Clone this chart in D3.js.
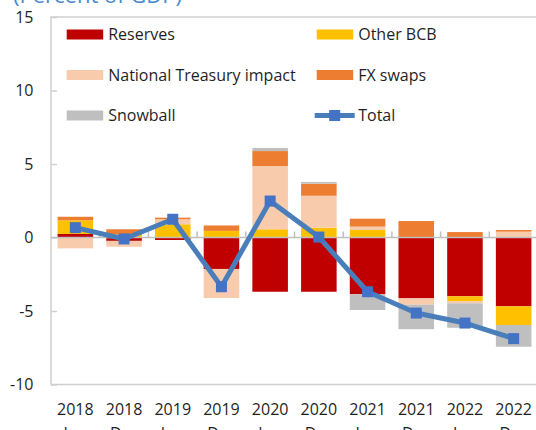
<!DOCTYPE html>
<html>
<head>
<meta charset="utf-8">
<script src="https://cdn.jsdelivr.net/npm/d3@7"></script>
<style>
  html, body { margin: 0; padding: 0; background: #fff; overflow: hidden; }
  svg { display: block; font-family: "Open Sans", "Noto Sans", sans-serif; }
</style>
</head>
<body>
<svg id="chart" width="536" height="430"></svg>
<script>
// Half-year periods (year / month)
const years  = ["2018", "2018", "2019", "2019", "2020", "2020", "2021", "2021", "2022", "2022"];
const months = ["Jun", "Dec", "Jun", "Dec", "Jun", "Dec", "Jun", "Dec", "Jun", "Dec"];

// Contributions, percent of GDP
const reserves = [0.24, -0.23, -0.17, -2.14, -3.69, -3.69, -3.86, -4.14, -4.00, -4.68];
const otherBCB = [0.93, 0.20, 0.90, 0.45, 0.56, 0.67, 0.51, 0.00, -0.32, -1.27];
const treasury = [-0.74, -0.40, 0.34, -1.98, 4.30, 2.17, 0.23, -0.43, -0.16, 0.40];
const fxSwaps  = [0.24, 0.36, 0.11, 0.37, 1.02, 0.82, 0.54, 1.12, 0.37, 0.11];
const snowball = [0.00, 0.00, 0.00, 0.00, 0.21, 0.12, -1.07, -1.67, -1.66, -1.48];
const total    = [0.67, -0.10, 1.24, -3.35, 2.48, 0.03, -3.69, -5.14, -5.82, -6.88];

const yTicks = [15, 10, 5, 0, -5, -10];

const seriesDefs = [
  { key: "reserves", name: "Reserves", values: reserves, color: "#C00000" },
  { key: "otherBCB", name: "Other BCB", values: otherBCB, color: "#FFC000" },
  { key: "treasury", name: "National Treasury impact", values: treasury, color: "#F8CBAD" },
  { key: "fxSwaps", name: "FX swaps", values: fxSwaps, color: "#ED7D31" },
  { key: "snowball", name: "Snowball", values: snowball, color: "#BFBFBF" }
];

const rows = years.map((y, i) => {
  const r = { id: i, year: y, month: months[i], total: total[i] };
  seriesDefs.forEach(s => { r[s.key] = s.values[i]; });
  return r;
});

const svg = d3.select("#chart");
const plot = { left: 51, right: 538, top: 17, bottom: 384.5 };

const x = d3.scaleBand()
  .domain(rows.map(d => d.id))
  .range([plot.left, plot.right])
  .paddingInner(0.27)
  .paddingOuter(0.135);

const y = d3.scaleLinear().domain([-10, 15]).range([plot.bottom, plot.top]);

const axisGrey = "#d0d0d0";
const textCol = "#1f1f1f";

// Stacked bars, positive and negative parts stacked away from zero
const stack = d3.stack()
  .keys(seriesDefs.map(s => s.key))
  .offset(d3.stackOffsetDiverging);
const layers = stack(rows);

svg.append("g").selectAll("g")
  .data(layers)
  .join("g")
  .attr("fill", (d, i) => seriesDefs[i].color)
  .selectAll("rect")
  .data(d => d)
  .join("rect")
  .attr("x", d => x(d.data.id))
  .attr("width", x.bandwidth())
  .attr("y", d => y(Math.max(d[0], d[1])))
  .attr("height", d => Math.abs(y(d[0]) - y(d[1])));

// Plot frame (top, left, bottom)
const frame = svg.append("g").attr("stroke", axisGrey).attr("stroke-width", 1.5).attr("fill", "none");
frame.append("path")
  .attr("d", `M${plot.right},${plot.top}H${plot.left}V${plot.bottom}H${plot.right}`);

// Y axis: labels on the left, short ticks pointing inward
const yAxis = svg.append("g").attr("transform", `translate(${plot.left},0)`)
  .call(d3.axisRight(y).tickValues(yTicks).tickSize(6).tickFormat(""));
yAxis.select(".domain").remove();
yAxis.selectAll("line").attr("stroke", axisGrey).attr("stroke-width", 1.5);

svg.append("g").selectAll("text")
  .data(yTicks)
  .join("text")
  .attr("x", 33.5)
  .attr("y", d => y(d))
  .attr("dy", "0.35em")
  .attr("text-anchor", "end")
  .attr("font-size", 16)
  .attr("fill", textCol)
  .text(d => d);

// Zero line with category boundary ticks
const zeroY = y(0);
svg.append("line")
  .attr("x1", plot.left).attr("x2", plot.right)
  .attr("y1", zeroY).attr("y2", zeroY)
  .attr("stroke", "#bfbfbf").attr("stroke-width", 1.5);

const boundaries = rows.slice(1).map(d => x(d.id) - x.step() * x.paddingInner() / 2);
svg.append("g").selectAll("line")
  .data(boundaries)
  .join("line")
  .attr("x1", d => d).attr("x2", d => d)
  .attr("y1", zeroY).attr("y2", zeroY - 6)
  .attr("stroke", "#bfbfbf").attr("stroke-width", 1.5);

// Category labels (two lines)
const xl = svg.append("g").selectAll("text")
  .data(rows)
  .join("text")
  .attr("x", d => x(d.id) + x.bandwidth() / 2)
  .attr("y", 415)
  .attr("text-anchor", "middle")
  .attr("font-size", 16)
  .attr("fill", textCol);
xl.append("tspan").text(d => d.year);
xl.append("tspan")
  .attr("x", d => x(d.id) + x.bandwidth() / 2)
  .attr("dy", 24)
  .text(d => d.month);

// Total line with square markers
const lineColor = "#4A7EBB";
const markerColor = "#4472C4";
const cx = d => x(d.id) + x.bandwidth() / 2;

svg.append("path")
  .datum(rows)
  .attr("fill", "none")
  .attr("stroke", lineColor)
  .attr("stroke-width", 5)
  .attr("stroke-linejoin", "round")
  .attr("d", d3.line().x(cx).y(d => y(d.total)));

const ms = 11;
svg.append("g").selectAll("rect")
  .data(rows)
  .join("rect")
  .attr("x", d => cx(d) - ms / 2)
  .attr("y", d => y(d.total) - ms / 2)
  .attr("width", ms).attr("height", ms)
  .attr("fill", markerColor);

// Legend
const legendItems = [
  { ...seriesDefs[0], col: 0, row: 0 },
  { ...seriesDefs[1], col: 1, row: 0 },
  { ...seriesDefs[2], col: 0, row: 1 },
  { ...seriesDefs[3], col: 1, row: 1 },
  { ...seriesDefs[4], col: 0, row: 2 },
  { name: "Total", line: true, col: 1, row: 2 }
];
const colX = [66.7, 316.7];
const rowY = [34.5, 75, 115.5];
const legend = svg.append("g").attr("font-size", 16).attr("fill", textCol);
legendItems.forEach(it => {
  const gx = colX[it.col], gy = rowY[it.row];
  if (it.line) {
    legend.append("line")
      .attr("x1", gx - 2).attr("x2", gx + 38)
      .attr("y1", gy).attr("y2", gy)
      .attr("stroke", lineColor).attr("stroke-width", 5);
    legend.append("rect")
      .attr("x", gx + 18 - ms / 2).attr("y", gy - ms / 2)
      .attr("width", ms).attr("height", ms)
      .attr("fill", markerColor);
  } else {
    legend.append("rect")
      .attr("x", gx).attr("y", gy - 5)
      .attr("width", 36.5).attr("height", 10)
      .attr("fill", it.color);
  }
  legend.append("text")
    .attr("x", gx + 41.5)
    .attr("y", gy)
    .attr("dy", "0.35em")
    .text(it.name);
});

// Unit note at the top, mostly above the visible area
svg.append("text")
  .attr("x", 13)
  .attr("y", 3)
  .attr("font-size", 22)
  .attr("fill", "#4A8AC9")
  .text("(Percent of GDP)");
</script>
</body>
</html>
